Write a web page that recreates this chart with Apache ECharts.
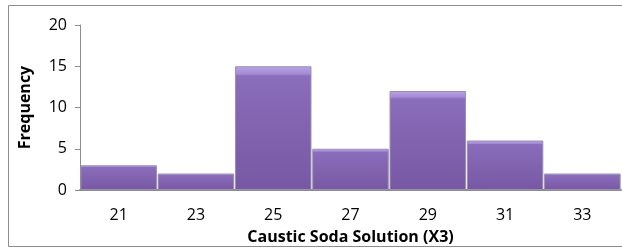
<!DOCTYPE html>
<html>
<head>
<meta charset="utf-8">
<script src="https://cdn.jsdelivr.net/npm/echarts@6/dist/echarts.min.js"></script>
<style>
  html, body { margin: 0; padding: 0; background: #fff; }
  #main { width: 622px; height: 250px; }
</style>
</head>
<body>
<div id="main"></div>
<script>
var categories = ['21', '23', '25', '27', '29', '31', '33'];
var frequency = [3, 2, 15, 5, 12, 6, 2];
var yTicks = [0, 5, 10, 15, 20];

var myChart = echarts.init(document.getElementById('main'));
var font = '"Open Sans", "Liberation Sans", sans-serif';
var option = {
    animation: false,
    graphic: [{
        type: 'rect',
        shape: { x: 8.5, y: 5.5, width: 640, height: 241 },
        style: { fill: 'none', stroke: '#8c8c8c', lineWidth: 1 },
        silent: true
    }],
    grid: {
        left: 80,
        right: 1,
        top: 25,
        bottom: 60
    },
    xAxis: {
        type: 'category',
        data: categories,
        name: 'Caustic Soda Solution (X3)',
        nameLocation: 'middle',
        nameGap: 39,
        nameTextStyle: {
            color: '#000',
            fontSize: 16,
            fontWeight: 'bold',
            fontFamily: font
        },
        axisLine: { lineStyle: { color: '#8c8c8c', width: 2 } },
        axisTick: { show: false },
        axisLabel: {
            color: '#000',
            fontSize: 16,
            fontFamily: font,
            margin: 17
        }
    },
    yAxis: {
        type: 'value',
        min: yTicks[0],
        max: yTicks[yTicks.length - 1],
        interval: 5,
        name: 'Frequency',
        nameLocation: 'middle',
        nameGap: 47,
        nameTextStyle: {
            color: '#000',
            fontSize: 16,
            fontWeight: 'bold',
            fontFamily: font
        },
        splitLine: { show: false },
        axisLine: { show: true, lineStyle: { color: '#8c8c8c', width: 1 } },
        axisTick: { show: true, length: 5, lineStyle: { color: '#8c8c8c' } },
        axisLabel: {
            color: '#000',
            fontSize: 16,
            fontFamily: font,
            margin: 13
        }
    },
    series: [{
        name: 'Frequency',
        type: 'bar',
        data: frequency,
        barCategoryGap: '1%',
        itemStyle: {
            color: new echarts.graphic.LinearGradient(0, 0, 0, 1, [
                { offset: 0, color: '#b9a4e4' },
                { offset: 0.06, color: '#a58bd6' },
                { offset: 0.08, color: '#8a6dbb' },
                { offset: 0.5, color: '#8163b0' },
                { offset: 1, color: '#7658a4' }
            ]),
            borderColor: '#9c8fae',
            borderWidth: 1
        }
    }]
};
myChart.setOption(option);
</script>
</body>
</html>
